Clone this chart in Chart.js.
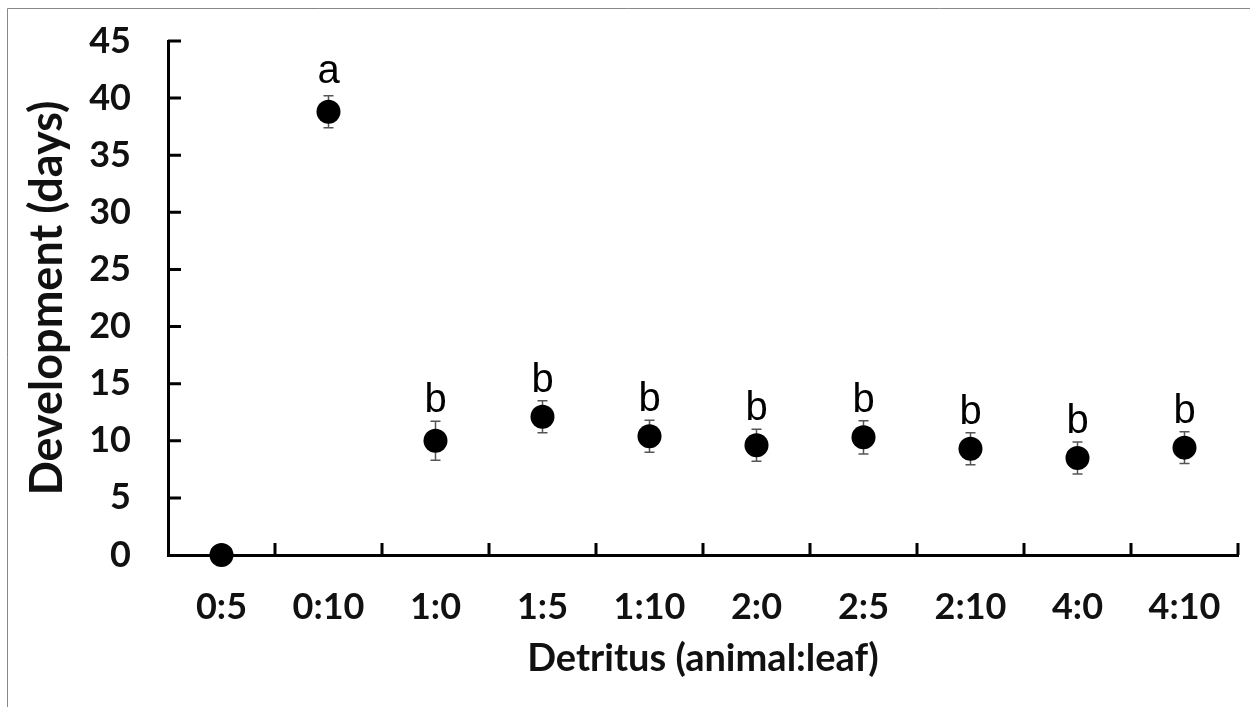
<!DOCTYPE html>
<html lang="en">
<head>
    <meta charset="UTF-8">
    <title>Development</title>
    <style>
        html, body { margin: 0; padding: 0; background: #fff; }
        #wrap { width: 1250px; height: 707px; }
    </style>
</head>
<body>
    <div id="wrap"><canvas id="myChart" width="1250" height="707"></canvas></div>
<script src="https://cdn.jsdelivr.net/npm/chart.js@4.4.1/dist/chart.umd.min.js"></script>
<script>
    // datos
    var categorias = ["0:5", "0:10", "1:0", "1:5", "1:10", "2:0", "2:5", "2:10", "4:0", "4:10"];
    var medias = [0, 38.8, 10.0, 12.1, 10.4, 9.6, 10.3, 9.3, 8.5, 9.4];
    var errores = [0, 1.4, 1.7, 1.4, 1.4, 1.4, 1.45, 1.4, 1.4, 1.4];
    var letras = ["", "a", "b", "b", "b", "b", "b", "b", "b", "b"];
    var ticksY = [0, 5, 10, 15, 20, 25, 30, 35, 40, 45];

    var fuenteEje = "Lato, 'Open Sans', sans-serif";

    // marco gris alrededor
    var marco = {
        id: 'marco',
        beforeDraw: function(chart) {
            var ctx = chart.ctx;
            ctx.save();
            ctx.strokeStyle = '#888';
            ctx.lineWidth = 1;
            ctx.beginPath();
            ctx.moveTo(7.5, 707);
            ctx.lineTo(7.5, 8.5);
            ctx.lineTo(1250, 8.5);
            ctx.stroke();
            ctx.restore();
        }
    };

    // marcas de los ejes hacia dentro
    var marcas = {
        id: 'marcas',
        afterDraw: function(chart) {
            var ctx = chart.ctx;
            var x = chart.scales.x, y = chart.scales.y;
            ctx.save();
            ctx.strokeStyle = '#000';
            ctx.lineWidth = 3;
            ctx.beginPath();
            ticksY.forEach(function(v) {
                if (v == 0) return;
                var py = y.getPixelForValue(v);
                ctx.moveTo(x.left, py);
                ctx.lineTo(x.left + 13, py);
            });
            for (var i = 0; i < categorias.length; i++) {
                var px = x.getPixelForValue(i) + (x.getPixelForValue(1) - x.getPixelForValue(0)) / 2;
                ctx.moveTo(px, y.bottom);
                ctx.lineTo(px, y.bottom - 12);
            }
            ctx.stroke();
            ctx.restore();
        }
    };

    // barras de error y letras
    var errorBars = {
        id: 'errorBars',
        beforeDatasetsDraw: function(chart) {
            var ctx = chart.ctx;
            var x = chart.scales.x, y = chart.scales.y;
            ctx.save();
            ctx.strokeStyle = '#555';
            ctx.lineWidth = 1.5;
            for (var i = 0; i < medias.length; i++) {
                if (!errores[i]) continue;
                var px = x.getPixelForValue(i);
                var top = y.getPixelForValue(medias[i] + errores[i]);
                var bot = y.getPixelForValue(medias[i] - errores[i]);
                ctx.beginPath();
                ctx.moveTo(px, top); ctx.lineTo(px, bot);
                ctx.moveTo(px - 5, top); ctx.lineTo(px + 5, top);
                ctx.moveTo(px - 5, bot); ctx.lineTo(px + 5, bot);
                ctx.stroke();
            }
            ctx.restore();
        },
        afterDatasetsDraw: function(chart) {
            var ctx = chart.ctx;
            var x = chart.scales.x, y = chart.scales.y;
            ctx.save();
            ctx.fillStyle = '#000';
            ctx.font = "40px 'Liberation Sans', Arial, sans-serif";
            ctx.textAlign = 'center';
            ctx.textBaseline = 'alphabetic';
            for (var i = 0; i < letras.length; i++) {
                if (letras[i] == "") continue;
                var px = x.getPixelForValue(i);
                var gap = (i == 1) ? 13 : 9;
                var py = y.getPixelForValue(medias[i] + errores[i]) - gap;
                ctx.fillText(letras[i], px, py);
            }
            ctx.restore();
        }
    };

    var ctx = document.getElementById('myChart').getContext('2d');
    var myChart = new Chart(ctx, {
        type: 'line',
        data: {
            labels: categorias,
            datasets: [{
                label: 'Development',
                data: medias,
                showLine: false,
                pointRadius: 12,
                pointHoverRadius: 12,
                pointBackgroundColor: '#000',
                pointBorderColor: '#000',
                pointBorderWidth: 0,
                clip: false
            }]
        },
        options: {
            responsive: false,
            animation: false,
            events: [],
            layout: { padding: { top: 41, right: 12, left: 10, bottom: 0 } },
            plugins: {
                legend: { display: false },
                tooltip: { enabled: false }
            },
            scales: {
                x: {
                    type: 'category',
                    offset: true,
                    grid: { display: false },
                    border: { display: true, color: '#000', width: 3 },
                    ticks: {
                        color: '#111',
                        font: { family: fuenteEje, size: 36, weight: 'bold' },
                        padding: 23,
                        maxRotation: 0,
                        autoSkip: false
                    },
                    title: {
                        display: true,
                        text: 'Detritus (animal:leaf)',
                        color: '#111',
                        font: { family: fuenteEje, size: 38, weight: 'bold' },
                        padding: { top: 0, bottom: 25 }
                    },
                    afterFit: function(s) { s.height = 152; }
                },
                y: {
                    min: 0,
                    max: 45,
                    grid: { display: false, drawTicks: true, tickLength: 37 },
                    border: { display: true, color: '#000', width: 3 },
                    ticks: {
                        stepSize: 5,
                        color: '#111',
                        font: { family: fuenteEje, size: 36, weight: 'bold' },
                        padding: 0
                    },
                    title: {
                        display: true,
                        text: 'Development (days)',
                        color: '#111',
                        font: { family: fuenteEje, size: 45, weight: 'bold' },
                        padding: { top: 10, bottom: 0 }
                    },
                    afterFit: function(s) { s.width = 158; }
                }
            }
        },
        plugins: [marco, marcas, errorBars]
    });
</script>
</body>
</html>
